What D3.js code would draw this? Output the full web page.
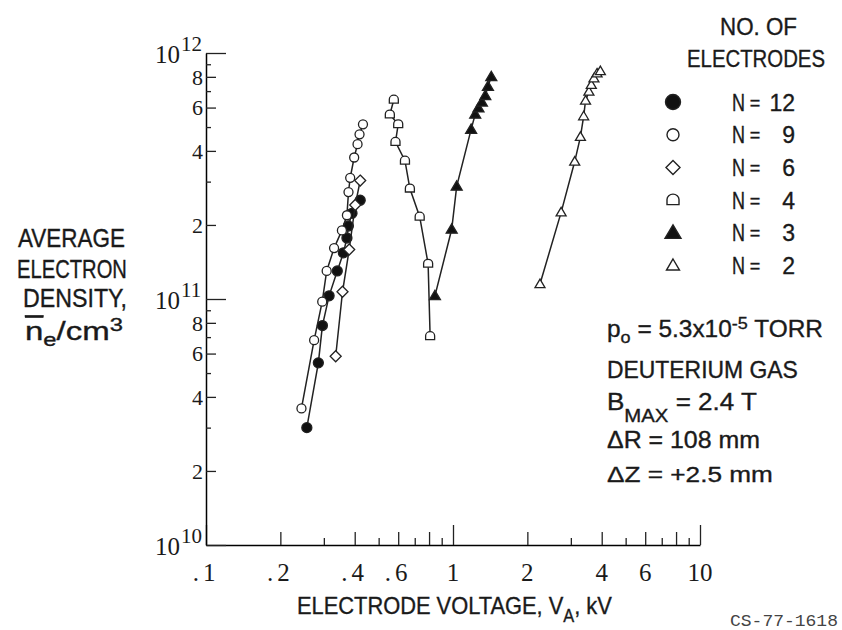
<!doctype html>
<html lang="en">
<head>
<meta charset="utf-8">
<title>Average electron density vs electrode voltage</title>
<script src="https://cdn.jsdelivr.net/npm/d3@7"></script>
<style>
	body { margin: 0; background: #fff; }
	svg { display: block; }
	.sans { font-family: "Liberation Sans", Arial, sans-serif; fill: #1a1a1a; stroke: #1a1a1a; stroke-width: 0.35px; }
	.serif { font-family: "Liberation Serif", "Times New Roman", serif; fill: #1a1a1a; }
	.mono { font-family: "Liberation Mono", "DejaVu Sans Mono", monospace; fill: #444; }
</style>
</head>
<body>
<div id="chart"></div>
<script>
// electrode voltage V_A (kV) and average electron density (per cm3)
var n12V  = [0.256, 0.285, 0.296, 0.315, 0.340, 0.360, 0.372, 0.377, 0.390, 0.421];
var n12Ne = [3.0e10, 5.5e10, 7.8e10, 1.03e11, 1.30e11, 1.54e11, 1.77e11, 1.98e11, 2.23e11, 2.52e11];

var n9V  = [0.2435, 0.274, 0.2955, 0.308, 0.330, 0.355, 0.372, 0.3775, 0.3835, 0.398, 0.4107, 0.4184, 0.432];
var n9Ne = [3.59e10, 6.80e10, 9.75e10, 1.30e11, 1.61e11, 1.90e11, 2.19e11, 2.72e11, 3.11e11, 3.76e11, 4.26e11, 4.67e11, 5.13e11];

var n6V  = [0.335, 0.357, 0.380, 0.402, 0.421];
var n6Ne = [5.85e10, 1.07e11, 1.59e11, 2.41e11, 3.03e11];

var n4V  = [0.576, 0.555, 0.600, 0.585, 0.639, 0.669, 0.733, 0.793, 0.808];
var n4Ne = [6.46e11, 5.62e11, 5.13e11, 4.35e11, 3.65e11, 2.81e11, 2.16e11, 1.39e11, 7.06e10];

var n3V  = [0.845, 0.988, 1.035, 1.184, 1.230, 1.268, 1.309, 1.351, 1.385, 1.429];
var n3Ne = [1.03e11, 1.92e11, 2.87e11, 4.89e11, 5.63e11, 5.97e11, 6.31e11, 6.71e11, 7.30e11, 8.01e11];

var n2V  = [2.25, 2.74, 3.11, 3.28, 3.38, 3.44, 3.55, 3.63, 3.72, 3.83, 3.95];
var n2Ne = [1.15e11, 2.25e11, 3.62e11, 4.56e11, 5.53e11, 6.40e11, 6.97e11, 7.42e11, 7.88e11, 8.26e11, 8.44e11];

var electrodeCounts = [12, 9, 6, 4, 3, 2];

var xTickVals = [0.1,0.2,0.3,0.4,0.5,0.6,0.7,0.8,0.9,1,2,3,4,5,6,7,8,9,10];
var xLabelVals = [0.1, 0.2, 0.4, 0.6, 1, 2, 4, 6, 10];
var xLabelText = [".1", ".2", ".4", ".6", "1", "2", "4", "6", "10"];

var yTickVals = [1e10,2e10,3e10,4e10,5e10,6e10,7e10,8e10,9e10,
	1e11,2e11,3e11,4e11,5e11,6e11,7e11,8e11,9e11,1e12];
var yDigitVals = [2e10,4e10,6e10,8e10,2e11,4e11,6e11,8e11];
var yPowerVals = [1e10, 1e11, 1e12];

var series = [
	{ n: 12, v: n12V, ne: n12Ne },
	{ n: 9,  v: n9V,  ne: n9Ne },
	{ n: 6,  v: n6V,  ne: n6Ne },
	{ n: 4,  v: n4V,  ne: n4Ne },
	{ n: 3,  v: n3V,  ne: n3Ne },
	{ n: 2,  v: n2V,  ne: n2Ne }
];

// marker style per electrode count
var markerStyle = {
	12: { kind: "circle",   filled: true,  size: 5,   legend: 7.5 },
	9:  { kind: "circle",   filled: false, size: 4.5, legend: 6 },
	6:  { kind: "diamond",  filled: false, size: 5.5, legend: 7 },
	4:  { kind: "dome",     filled: false, size: 4.5, legend: 6 },
	3:  { kind: "triangle", filled: true,  size: 5.5, legend: 8 },
	2:  { kind: "triangle", filled: false, size: 5,   legend: 6.5 }
};

function markerPath(kind, s) {
	switch (kind) {
		case "circle":
			return d3.symbol(d3.symbolCircle, Math.PI * s * s)();
		case "diamond":
			return "M0," + (-s) + "L" + s + ",0L0," + s + "L" + (-s) + ",0Z";
		case "dome":
			return "M" + (-s) + "," + (s * 0.75) + "L" + (-s) + "," + (-s * 0.1) +
				"A" + s + "," + (s * 0.9) + " 0 0 1 " + s + "," + (-s * 0.1) +
				"L" + s + "," + (s * 0.75) + "Z";
		case "triangle":
			return "M0," + (-s) + "L" + s + "," + (s * 0.7) + "L" + (-s) + "," + (s * 0.7) + "Z";
	}
}

function mantissa(v) {
	var p = Math.floor(Math.log10(v) + 1e-9);
	return Math.round(v / Math.pow(10, p));
}

var width = 842, height = 630;

var svg = d3.select("#chart").append("svg")
	.attr("width", width)
	.attr("height", height);

var x = d3.scaleLog().domain([0.1, 10]).range([206, 700]);
var y = d3.scaleLog().domain([1e10, 1e12]).range([545, 53]);

// x axis, ticks pointing up into the plot
var gx = svg.append("g")
	.attr("transform", "translate(0," + y(1e10) + ")")
	.call(d3.axisBottom(x).tickValues(xTickVals).tickSizeInner(0).tickSizeOuter(0).tickFormat(""));
gx.selectAll(".tick line")
	.attr("y2", function(d) {
		var m = mantissa(d);
		return m === 1 ? -20 : (m % 2 === 0 ? -13 : -7);
	});
gx.select(".domain").attr("stroke-width", 1.5);
gx.selectAll("line").attr("stroke", "#222").attr("stroke-width", 1.3);

// y axis, ticks pointing right into the plot
var gy = svg.append("g")
	.attr("transform", "translate(" + x(0.1) + ",0)")
	.call(d3.axisLeft(y).tickValues(yTickVals).tickSizeInner(0).tickSizeOuter(0).tickFormat(""));
gy.selectAll(".tick line")
	.attr("x2", function(d) {
		var m = mantissa(d);
		return m === 1 ? 20 : (m % 2 === 0 ? 10 : 5);
	});
gy.select(".domain").attr("stroke-width", 1.5);
gy.selectAll("line").attr("stroke", "#222").attr("stroke-width", 1.3);

// x tick labels
svg.append("g").selectAll("text")
	.data(xLabelVals)
	.enter().append("text")
	.attr("class", "serif")
	.attr("x", function(d) { return x(d); })
	.attr("y", 581)
	.attr("text-anchor", "middle")
	.attr("font-size", 25)
	.attr("letter-spacing", function(d) { return d < 1 ? 4 : 0; })
	.text(function(d, i) { return xLabelText[i]; });

// y tick labels
svg.append("g").selectAll("text")
	.data(yDigitVals)
	.enter().append("text")
	.attr("class", "serif")
	.attr("x", 203)
	.attr("y", function(d) { return y(d); })
	.attr("dy", "0.36em")
	.attr("text-anchor", "end")
	.attr("font-size", 22)
	.text(function(d) { return mantissa(d); });

var pw = svg.append("g").selectAll("g")
	.data(yPowerVals)
	.enter().append("g");
pw.append("text")
	.attr("class", "serif")
	.attr("x", 180)
	.attr("y", function(d) { return y(d) + 10; })
	.attr("text-anchor", "end")
	.attr("font-size", 25)
	.text("10");
pw.append("text")
	.attr("class", "serif")
	.attr("x", 181)
	.attr("y", function(d) { return y(d) - 2; })
	.attr("font-size", 21)
	.text(function(d) { return Math.round(Math.log10(d)); });

// series lines and markers
var line = d3.line()
	.x(function(d) { return x(d[0]); })
	.y(function(d) { return y(d[1]); });

series.forEach(function(s) {
	var pts = s.v.map(function(v, i) { return [v, s.ne[i]]; });
	var st = markerStyle[s.n];
	svg.append("path")
		.datum(pts)
		.attr("d", line)
		.attr("fill", "none")
		.attr("stroke", "#222")
		.attr("stroke-width", 1.5);
	svg.append("g").selectAll("path")
		.data(pts)
		.enter().append("path")
		.attr("transform", function(d) { return "translate(" + x(d[0]) + "," + y(d[1]) + ")"; })
		.attr("d", markerPath(st.kind, st.size))
		.attr("fill", st.filled ? "#111" : "#fff")
		.attr("stroke", "#222")
		.attr("stroke-width", 1.3);
});

// a line of text squeezed to the measured width (the lettering is condensed)
function fittedLine(parts, x0, baseline, w, size, cls) {
	var g = svg.append("g");
	var t = g.append("text").attr("class", cls);
	parts.forEach(function(p) {
		var ts = t.append("tspan").text(p.t).attr("font-size", p.size || size);
		if (p.dy) ts.attr("dy", p.dy);
		if (p.deco) ts.attr("text-decoration", p.deco);
	});
	var bb = g.node().getBBox();
	var k = w / bb.width;
	g.attr("transform", "translate(" + (x0 - bb.x * k) + "," + baseline + ") scale(" + k + ",1)");
	return g;
}

// legend
fittedLine([{t: "NO. OF"}], 720, 35, 77, 24, "sans");
fittedLine([{t: "ELECTRODES"}], 687, 67, 138, 24, "sans");

var lg = svg.append("g").selectAll("g")
	.data(electrodeCounts)
	.enter().append("g")
	.attr("transform", function(d, i) { return "translate(0," + (102 + i * 32.7) + ")"; });
lg.append("path")
	.attr("transform", "translate(673,0)")
	.attr("d", function(d) { return markerPath(markerStyle[d].kind, markerStyle[d].legend); })
	.attr("fill", function(d) { return markerStyle[d].filled ? "#111" : "#fff"; })
	.attr("stroke", "#222")
	.attr("stroke-width", 1.4);
lg.append("text").attr("class", "sans").attr("font-size", 23)
	.attr("x", 732).attr("y", 8.5)
	.attr("textLength", 13).attr("lengthAdjust", "spacingAndGlyphs")
	.text("N");
lg.append("text").attr("class", "sans").attr("font-size", 18)
	.attr("x", 755).attr("y", 6.5).attr("text-anchor", "middle")
	.text("=");
lg.append("text").attr("class", "sans").attr("font-size", 23)
	.attr("x", 795).attr("y", 8.5).attr("text-anchor", "end")
	.text(function(d) { return d; });

// operating conditions
fittedLine([{t: "p"}, {t: "o", dy: 6, size: 17}, {t: " = 5.3x10", dy: -6}, {t: "-5", dy: -8, size: 17}, {t: " TORR", dy: 8}], 607, 337, 216, 23, "sans");
fittedLine([{t: "DEUTERIUM GAS"}], 607, 378, 191, 23, "sans");
fittedLine([{t: "B"}, {t: "MAX", dy: 12, size: 18}, {t: " = 2.4 T", dy: -12}], 607, 410, 150, 23, "sans");
fittedLine([{t: "\u0394R = 108 mm"}], 607, 448, 153, 23, "sans");
fittedLine([{t: "\u0394Z = +2.5 mm"}], 607, 482, 166, 23, "sans");

// y title
fittedLine([{t: "AVERAGE"}], 18, 247, 107, 25, "sans");
fittedLine([{t: "ELECTRON"}], 17, 278, 110, 25, "sans");
fittedLine([{t: "DENSITY,"}], 23, 307, 104, 25, "sans");
fittedLine([{t: "n", deco: "overline"}, {t: "e", dy: 6, size: 18}, {t: "/cm", dy: -6}, {t: "3", dy: -9, size: 18}], 25, 340, 98, 25, "sans");

// x title
fittedLine([{t: "ELECTRODE VOLTAGE, V"}, {t: "A", dy: 8, size: 18}, {t: ", kV", dy: -8}], 297, 614, 315, 24, "sans");

// figure number
fittedLine([{t: "CS-77-1618"}], 730, 626, 108, 16, "mono");
</script>
</body>
</html>
